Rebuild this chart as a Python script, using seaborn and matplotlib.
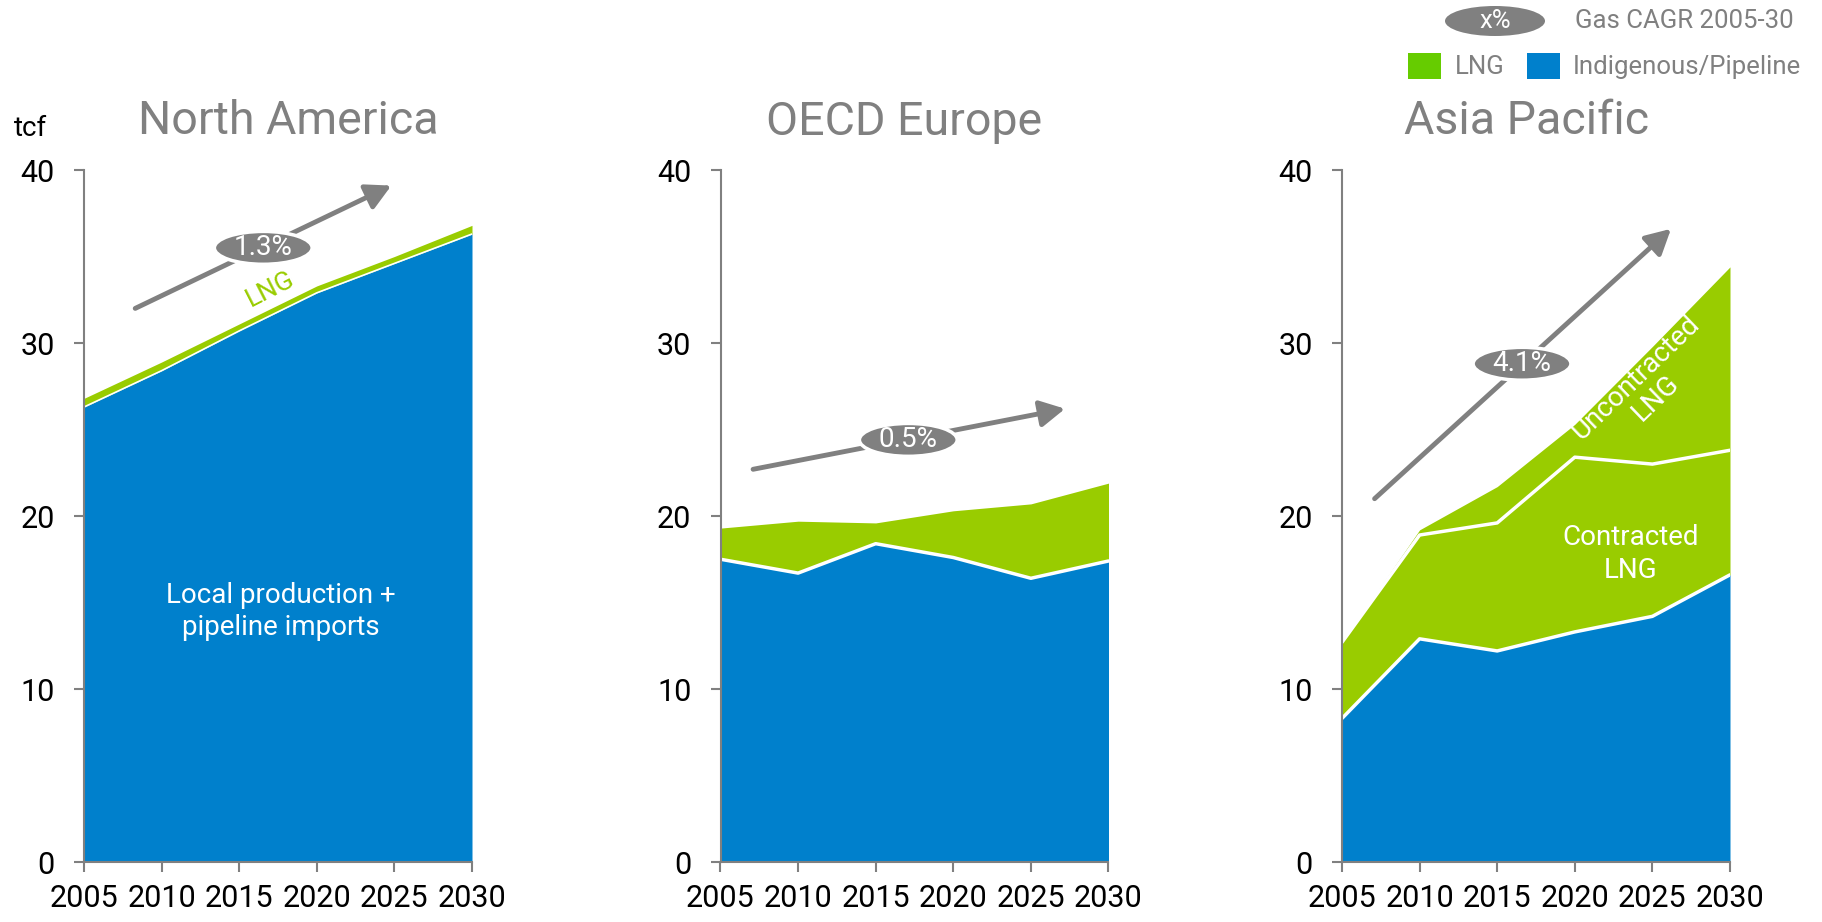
import numpy as np
import pandas as pd
import matplotlib
matplotlib.use("Agg")
import matplotlib.pyplot as plt
from matplotlib.patches import Ellipse, Rectangle
import seaborn as sns

# ---------------- data ----------------
years = [2005, 2010, 2015, 2020, 2025, 2030]

na_pipeline = [26.3, 28.4, 30.7, 32.9, 34.6, 36.3]
na_lng = [0.5, 0.5, 0.4, 0.4, 0.4, 0.5]

eu_pipeline = [17.5, 16.7, 18.4, 17.6, 16.4, 17.4]
eu_lng = [1.8, 3.0, 1.2, 2.7, 4.3, 4.5]

ap_pipeline = [8.3, 12.9, 12.2, 13.3, 14.2, 16.6]
ap_contracted = [4.4, 6.0, 7.4, 10.1, 8.8, 7.2]
ap_uncontracted = [0.0, 0.3, 2.1, 1.9, 6.8, 10.6]

regions = ["North America", "OECD Europe", "Asia Pacific"]
cagr_labels = ["1.3%", "0.5%", "4.1%"]
y_ticks = [0, 10, 20, 30, 40]
x_ticks = [2005, 2010, 2015, 2020, 2025, 2030]

BLUE = "#0080CC"
GREEN = "#99CC00"
LEG_GREEN = "#66CC00"
GREY = "#808080"

sns.set_style("white")
plt.rcParams["font.family"] = ["Roboto", "DejaVu Sans"]

W, H = 1822, 922
fig = plt.figure(figsize=(W / 100, H / 100), dpi=100)

lefts = [84, 720.5, 1342]
ax_w = 388
ax_bottom = 862
ax_top = 170
title_x = [288, 904, 1527]

stacks = [
    [na_pipeline, na_lng],
    [eu_pipeline, eu_lng],
    [ap_pipeline, ap_contracted, ap_uncontracted],
]
stack_colors = [[BLUE, GREEN], [BLUE, GREEN], [BLUE, GREEN, GREEN]]
boundary_lw = [1.2, 2.5, 2.5]

arrows = [
    ((2008.3, 32.0), (2024.8, 39.1)),
    ((2007.1, 22.7), (2027.2, 26.2)),
    ((2007.1, 21.0), (2026.2, 36.6)),
]
badges = [(2016.55, 35.5), (2017.1, 24.4), (2016.6, 28.8)]

axes = []
for i in range(3):
    ax = fig.add_axes([lefts[i] / W, (H - ax_bottom) / H, ax_w / W, (ax_bottom - ax_top) / H])
    axes.append(ax)
    layers = stacks[i]
    cum = np.cumsum(np.array(layers), axis=0)
    base = np.zeros(len(years))
    for k, top in enumerate(cum):
        ax.fill_between(years, base, top, color=stack_colors[i][k], linewidth=0, zorder=1)
        base = top
    # white boundaries between layers
    for k in range(len(cum) - 1):
        df = pd.DataFrame({"year": years, "val": cum[k]})
        sns.lineplot(data=df, x="year", y="val", ax=ax, color="white",
                     linewidth=boundary_lw[i], zorder=2)
    ax.set_xlim(2005, 2030)
    ax.set_ylim(0, 40)
    ax.set_xticks(x_ticks)
    ax.set_yticks(y_ticks)
    ax.set_xlabel("")
    ax.set_ylabel("")
    for s in ["top", "right"]:
        ax.spines[s].set_visible(False)
    for s in ["left", "bottom"]:
        ax.spines[s].set_color(GREY)
        ax.spines[s].set_linewidth(1.5)
    ax.tick_params(axis="both", direction="out", length=7, width=1.5, color=GREY,
                   labelsize=22, labelcolor="black", bottom=True, left=True)
    ax.tick_params(axis="y", pad=14)
    ax.tick_params(axis="x", pad=9)
    ax.grid(False)

    # CAGR arrow
    (x0, y0), (x1, y1) = arrows[i]
    ax.annotate("", xy=(x1, y1), xytext=(x0, y0),
                arrowprops=dict(arrowstyle="-|>,head_length=0.75,head_width=0.4",
                                lw=3.5, color=GREY, shrinkA=0, shrinkB=0,
                                mutation_scale=20), zorder=4)
    bx, by = badges[i]
    ax.add_patch(Ellipse((bx, by), 6.3, 1.9, facecolor=GREY, edgecolor="white",
                         linewidth=2.5, zorder=5))
    ax.text(bx, by, cagr_labels[i], color="white", fontsize=20, ha="center",
            va="center", zorder=6)

    fig.text(title_x[i] / W, 1 - 121.5 / H, regions[i], fontsize=33.5, color=GREY,
             ha="center", va="center")

# in-chart labels
axes[0].text(2017.7, 14.5, "Local production +\npipeline imports", color="white",
             fontsize=20, ha="center", va="center", linespacing=1.25, zorder=6)
axes[0].text(2017.0, 33.1, "LNG", color=GREEN, fontsize=19, rotation=27,
             ha="center", va="center", rotation_mode="anchor", zorder=6)
axes[2].text(2023.6, 17.8, "Contracted\nLNG", color="white", fontsize=20,
             ha="center", va="center", linespacing=1.25, zorder=6)
axes[2].text(2024.6, 27.4, "Uncontracted\nLNG", color="white", fontsize=20,
             ha="center", va="center", rotation=44, rotation_mode="anchor",
             linespacing=1.1, zorder=6)

# unit label
fig.text(14 / W, 1 - 128 / H, "tcf", fontsize=20, color="black", ha="left", va="center")

# legend
fig.add_artist(Ellipse((1495 / W, 1 - 21 / H), 100 / W, 30 / H,
                       transform=fig.transFigure, facecolor=GREY, edgecolor="none"))
fig.text(1495 / W, 1 - 21 / H, "x%", color="white", fontsize=18.5, ha="center", va="center")
fig.text(1575 / W, 1 - 21 / H, "Gas CAGR 2005-30", color=GREY, fontsize=18.5,
         ha="left", va="center")
fig.add_artist(Rectangle((1408 / W, 1 - 79 / H), 33 / W, 26 / H,
                         transform=fig.transFigure, facecolor=LEG_GREEN, edgecolor="none"))
fig.text(1455 / W, 1 - 67 / H, "LNG", color=GREY, fontsize=18.5, ha="left", va="center")
fig.add_artist(Rectangle((1527 / W, 1 - 79 / H), 33 / W, 26 / H,
                         transform=fig.transFigure, facecolor=BLUE, edgecolor="none"))
fig.text(1573 / W, 1 - 67 / H, "Indigenous/Pipeline", color=GREY, fontsize=18.5,
         ha="left", va="center")

fig.savefig("out.png", dpi=100)
